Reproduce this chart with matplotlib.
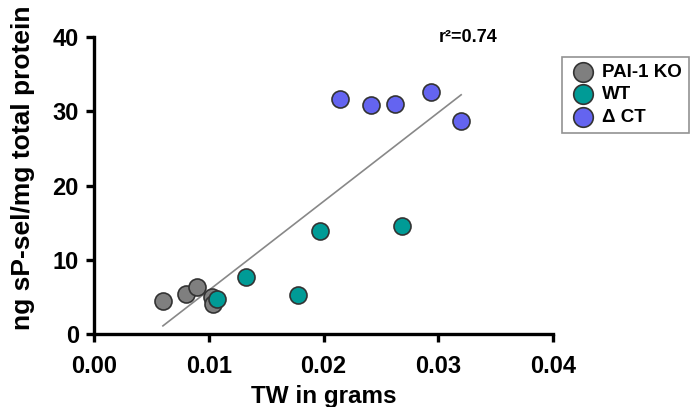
import numpy as np
import matplotlib.pyplot as plt

plt.rcParams['font.family'] = ['Liberation Sans', 'DejaVu Sans']
plt.rcParams['font.weight'] = 'bold'

# values
ko_x = [0.0060, 0.0080, 0.0090, 0.0103, 0.0104]
ko_y = [4.4, 5.4, 6.4, 5.0, 4.1]
wt_x = [0.0107, 0.0132, 0.0178, 0.0197, 0.0268]
wt_y = [4.7, 7.7, 5.3, 13.9, 14.5]
ct_x = [0.0214, 0.0241, 0.0262, 0.0294, 0.0320]
ct_y = [31.6, 30.8, 31.0, 32.6, 28.7]

groups = [
    ("PAI-1 KO", ko_x, ko_y, "#7f7f7f"),
    ("WT", wt_x, wt_y, "#009b96"),
    ("\u0394 CT", ct_x, ct_y, "#6464f0"),
]

fig = plt.figure(figsize=(6.92, 4.07), dpi=100)
ax = fig.add_axes([0.136, 0.179, 0.663, 0.730])

for name, xs, ys, col in groups:
    ax.scatter(xs, ys, s=150, c=col, edgecolors="#333333", linewidths=1.2,
               label=name, zorder=3)

# regression line over all points
all_x = np.array(ko_x + wt_x + ct_x)
all_y = np.array(ko_y + wt_y + ct_y)
k, b = np.polyfit(all_x, all_y, 1)
lx = np.array([all_x.min(), all_x.max()])
ax.plot(lx, k * lx + b, color="#888888", lw=1.2, zorder=2)

ax.text(0.0326, 40.0, "r\u00b2=0.74", fontsize=13, fontweight="bold",
        ha="center", va="center")

ax.set_xlim(0, 0.04)
ax.set_ylim(0, 40)
ax.set_xticks([0, 0.01, 0.02, 0.03, 0.04])
ax.set_xticklabels(["0.00", "0.01", "0.02", "0.03", "0.04"])
ax.set_yticks([0, 10, 20, 30, 40])
for s in ["top", "right"]:
    ax.spines[s].set_visible(False)
for s in ["left", "bottom"]:
    ax.spines[s].set_linewidth(2.4)
    ax.spines[s].set_capstyle("projecting")
ax.tick_params(width=2.4, length=6, labelsize=17)
ax.tick_params(axis="x", pad=9)
ax.tick_params(axis="y", pad=5)
for lab in ax.get_xticklabels() + ax.get_yticklabels():
    lab.set_fontweight("bold")

ax.set_xlabel("TW in grams", fontsize=17.5, fontweight="bold")
ax.xaxis.set_label_coords(0.5, -0.172)
ax.set_ylabel("ng sP-sel/mg total protein", fontsize=19, fontweight="bold")
ax.yaxis.set_label_coords(-0.128, 0.56)

leg = fig.legend(loc="upper left", bbox_to_anchor=(0.812, 0.86),
                 fontsize=13.5, frameon=True, fancybox=False, borderpad=0.35,
                 handletextpad=0.3, labelspacing=0.3, handlelength=1.5,
                 borderaxespad=0, markerscale=1.15)
leg.get_frame().set_edgecolor("#777777")
leg.get_frame().set_linewidth(1.2)
for t in leg.get_texts():
    t.set_fontweight("bold")

fig.savefig("out.png", dpi=100)
